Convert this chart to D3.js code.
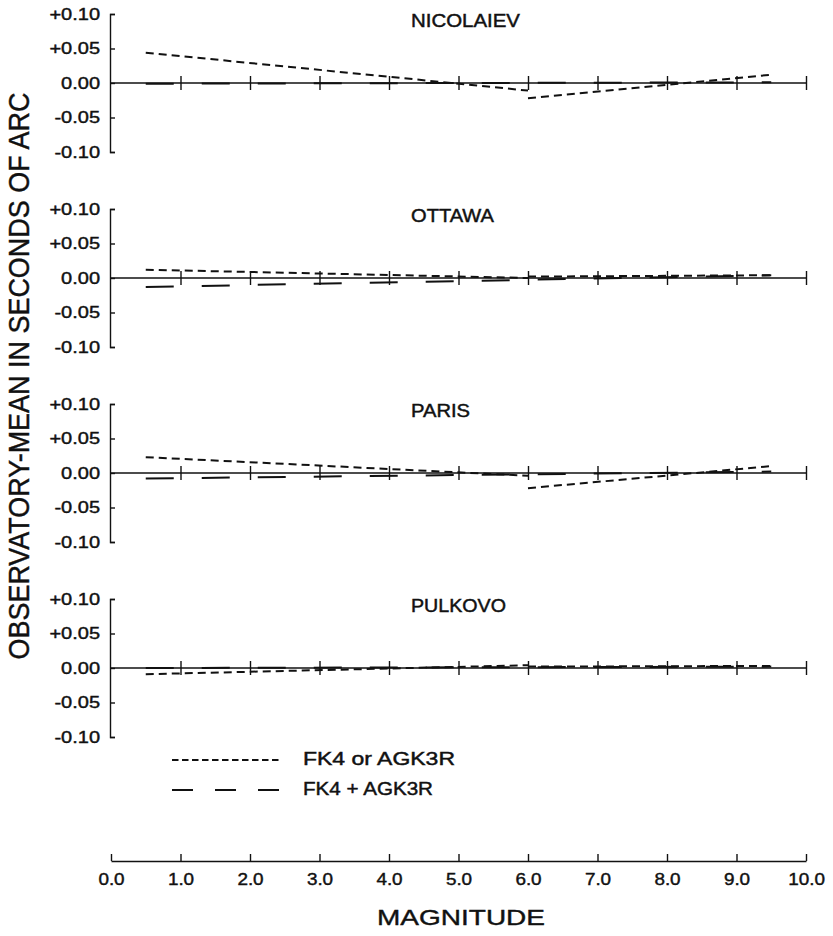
<!DOCTYPE html>
<html>
<head>
<meta charset="utf-8">
<script src="https://cdn.jsdelivr.net/npm/d3@7"></script>
<style>
  html, body { margin: 0; padding: 0; background: #fff; }
  svg { display: block; }
  text { font-family: "Liberation Sans", Arial, sans-serif; fill: #111; }
</style>
</head>
<body>
<svg id="chart" width="833" height="936"></svg>
<script>
// Observatory panels, top to bottom
const stations = ["NICOLAIEV", "OTTAWA", "PARIS", "PULKOVO"];

// "FK4 or AGK3R": FK4 fit for bright stars, AGK3R fit for faint stars (seconds of arc)
const brightMags = [0.5, 6.0];
const faintMags = [6.0, 9.5];
const fk4OrAgkBright = [
  [0.044, -0.011],
  [0.012, 0.000],
  [0.023, -0.004],
  [-0.009, 0.004]
];
const fk4OrAgkFaint = [
  [-0.022, 0.012],
  [0.002, 0.004],
  [-0.022, 0.010],
  [0.002, 0.003]
];

// "FK4 + AGK3R": combined fit over the whole magnitude range
const combinedMags = [0.5, 9.5];
const fk4PlusAgk = [
  [-0.001, 0.001],
  [-0.013, 0.004],
  [-0.008, 0.002],
  [0.000, 0.002]
];

// Axis ticks
const yTickValues = [0.10, 0.05, 0.00, -0.05, -0.10];
const yTickLabels = ["+0.10", "+0.05", "0.00", "-0.05", "-0.10"];
const xTickValues = [0, 1, 2, 3, 4, 5, 6, 7, 8, 9, 10];
const xTickLabels = ["0.0", "1.0", "2.0", "3.0", "4.0", "5.0", "6.0", "7.0", "8.0", "9.0", "10.0"];
const zeroTickValues = [1, 2, 3, 4, 5, 6, 7, 8, 9, 10];

const legendLabels = ["FK4 or AGK3R", "FK4 + AGK3R"];
const yTitle = "OBSERVATORY-MEAN IN SECONDS OF ARC";
const xTitle = "MAGNITUDE";

// ---- layout ----
const svg = d3.select("#chart");
const x = d3.scaleLinear().domain([0, 10]).range([111, 806]);
const panelTops = [14, 209, 404, 599];
const panelH = 138;
const axisX = 110;
const ink = "#111";

// Widen glyphs a little, like the stencil lettering of the original plot
function widen(sel, factor) {
  sel.each(function () {
    const n = this.getComputedTextLength();
    d3.select(this).attr("textLength", n * factor).attr("lengthAdjust", "spacingAndGlyphs");
  });
}

const nameWidths = [109, 83, 59, 95];

stations.forEach((name, i) => {
  const top = panelTops[i];
  const y = d3.scaleLinear().domain([-0.10, 0.10]).range([top + panelH, top]);
  const g = svg.append("g");

  // bracket-shaped vertical axis with inward ticks
  const yAxisG = g.append("g")
    .attr("transform", `translate(${axisX},0)`)
    .call(d3.axisRight(y).tickValues(yTickValues).tickSizeInner(5).tickSizeOuter(5).tickFormat(""));
  yAxisG.selectAll("path, line").attr("stroke", ink).attr("stroke-width", 1.4);

  // tick labels
  const yLab = g.append("g")
    .attr("transform", `translate(${axisX},0)`)
    .call(d3.axisLeft(y).tickValues(yTickValues).tickSize(0).tickPadding(10)
      .tickFormat((d, k) => yTickLabels[k]));
  yLab.select(".domain").remove();
  yLab.selectAll("text")
    .attr("font-size", 16)
    .attr("font-family", "Liberation Sans, Arial, sans-serif")
    .attr("fill", ink)
    .attr("stroke", ink).attr("stroke-width", 0.4);
  widen(yLab.selectAll("text"), 1.25);

  // zero line with crossing ticks at each magnitude
  const y0 = y(0);
  g.append("line")
    .attr("x1", x(0)).attr("x2", x(10)).attr("y1", y0).attr("y2", y0)
    .attr("stroke", ink).attr("stroke-width", 1.4);
  const zt = g.append("g")
    .attr("transform", `translate(0,${y0 - 7})`)
    .call(d3.axisBottom(x).tickValues(zeroTickValues).tickSize(14).tickFormat(""));
  zt.select(".domain").remove();
  zt.selectAll("line").attr("stroke", ink).attr("stroke-width", 1.4);

  const line = d3.line().x(d => x(d[0])).y(d => y(d[1]));

  // FK4 or AGK3R (short dashes), two separate fits
  [[brightMags, fk4OrAgkBright[i]], [faintMags, fk4OrAgkFaint[i]]].forEach(([mags, vals]) => {
    g.append("path")
      .datum(mags.map((m, k) => [m, vals[k]]))
      .attr("d", line)
      .attr("fill", "none")
      .attr("stroke", ink)
      .attr("stroke-width", 2)
      .attr("stroke-dasharray", "8,5");
  });

  // FK4 + AGK3R (long dashes)
  g.append("path")
    .datum(combinedMags.map((m, k) => [m, fk4PlusAgk[i][k]]))
    .attr("d", line)
    .attr("fill", "none")
    .attr("stroke", ink)
    .attr("stroke-width", 2)
    .attr("stroke-dasharray", "28,28");

  // station name
  g.append("text")
    .attr("x", 411)
    .attr("y", top + 8)
    .attr("dominant-baseline", "middle")
    .attr("font-size", 18)
    .attr("stroke", ink).attr("stroke-width", 0.45)
    .attr("textLength", nameWidths[i])
    .attr("lengthAdjust", "spacingAndGlyphs")
    .text(name);
});

// ---- legend ----
const legendRows = [760, 790];
const legendG = svg.append("g");
legendG.append("line")
  .attr("x1", 172).attr("x2", 281).attr("y1", legendRows[0]).attr("y2", legendRows[0])
  .attr("stroke", ink).attr("stroke-width", 1.8).attr("stroke-dasharray", "6.5,3.5");
legendG.append("line")
  .attr("x1", 172).attr("x2", 281).attr("y1", legendRows[1]).attr("y2", legendRows[1])
  .attr("stroke", ink).attr("stroke-width", 1.8).attr("stroke-dasharray", "21,22");
const legendWidths = [152, 130];
legendLabels.forEach((lab, k) => {
  legendG.append("text")
    .attr("x", 303)
    .attr("y", legendRows[k])
    .attr("dominant-baseline", "middle")
    .attr("font-size", 18)
    .attr("stroke", ink).attr("stroke-width", 0.45)
    .attr("textLength", legendWidths[k])
    .attr("lengthAdjust", "spacingAndGlyphs")
    .text(lab);
});

// ---- magnitude axis ----
const xAxisY = 861;
const xg = svg.append("g")
  .attr("transform", `translate(0,${xAxisY})`)
  .call(d3.axisBottom(x).tickValues(xTickValues).tickSize(-7).tickSizeOuter(0).tickPadding(13)
    .tickFormat((d, k) => xTickLabels[k]));
xg.selectAll("path, line").attr("stroke", ink).attr("stroke-width", 1.4);
xg.selectAll("text")
  .attr("font-size", 16)
  .attr("font-family", "Liberation Sans, Arial, sans-serif")
  .attr("fill", ink)
  .attr("stroke", ink).attr("stroke-width", 0.4);
widen(xg.selectAll("text"), 1.18);

svg.append("text")
  .attr("x", 461)
  .attr("y", 919)
  .attr("text-anchor", "middle")
  .attr("dominant-baseline", "middle")
  .attr("font-size", 22)
  .attr("stroke", ink).attr("stroke-width", 0.4)
  .attr("textLength", 168)
  .attr("lengthAdjust", "spacingAndGlyphs")
  .text(xTitle);

// ---- vertical title ----
svg.append("text")
  .attr("transform", "translate(21,376) rotate(-90)")
  .attr("text-anchor", "middle")
  .attr("dominant-baseline", "middle")
  .attr("font-size", 29)
  .attr("stroke", ink).attr("stroke-width", 0.4)
  .attr("textLength", 567)
  .attr("lengthAdjust", "spacingAndGlyphs")
  .text(yTitle);
</script>
</body>
</html>
